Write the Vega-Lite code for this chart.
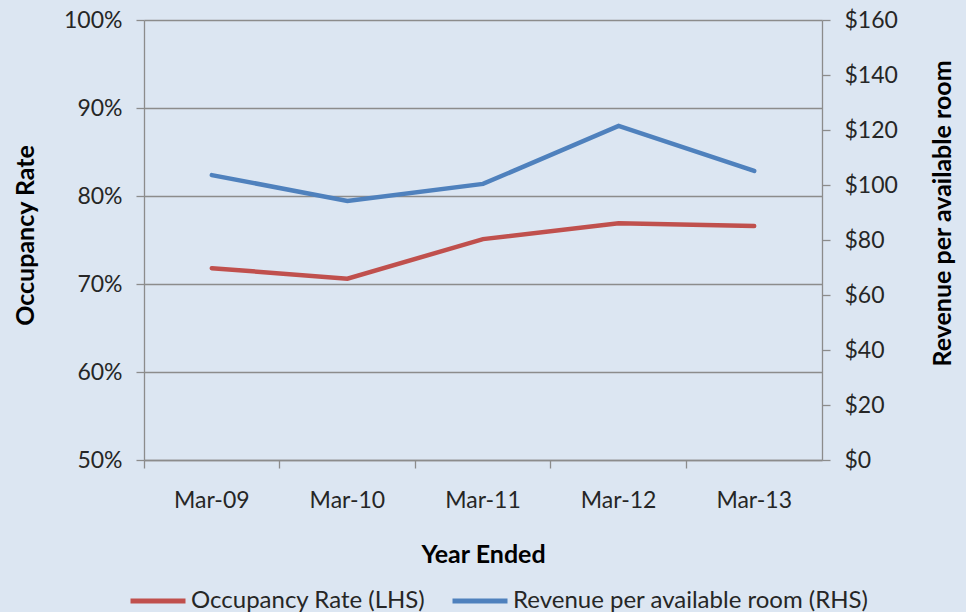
{
  "$schema": "https://vega.github.io/schema/vega-lite/v6.json",
  "autosize": {"type": "none"},
  "width": 678,
  "height": 440,
  "padding": {"left": 144, "top": 20, "right": 144, "bottom": 152},
  "background": "#dce6f2",
  "config": {
    "view": {"stroke": null},
    "font": "Lato",
    "axis": {"labelFont": "Lato", "titleFont": "Lato", "labelColor": "#262626", "titleColor": "#000000", "labelFontSize": 23, "titleFontSize": 25, "titleFontWeight": "bold", "domainColor": "#8c8c8c", "tickColor": "#8c8c8c", "gridColor": "#8c8c8c", "domainWidth": 1.3, "tickWidth": 1.3, "gridWidth": 1.3}
  },
  "data": {"values": [
    {"year": "Mar-09", "occ": 0.718, "revpar": 103.6},
    {"year": "Mar-10", "occ": 0.706, "revpar": 94.2},
    {"year": "Mar-11", "occ": 0.751, "revpar": 100.4},
    {"year": "Mar-12", "occ": 0.769, "revpar": 121.5},
    {"year": "Mar-13", "occ": 0.766, "revpar": 105.1}
  ]},
  "encoding": {
    "x": {"field": "year", "type": "ordinal", "scale": {"type": "band", "paddingInner": 0, "paddingOuter": 0}}
  },
  "layer": [
    {
      "mark": {"type": "line", "strokeWidth": 4.5, "strokeCap": "round"},
      "encoding": {
        "x": {"field": "year", "type": "ordinal", "axis": {"orient": "bottom", "title": "Year Ended", "labelAngle": 0, "ticks": false, "domain": true, "labelPadding": 29, "titlePadding": 30}},
        "y": {"field": "occ", "type": "quantitative", "scale": {"domain": [0.5, 1.0]}, "axis": {"title": "Occupancy Rate", "format": ".0%", "values": [0.5, 0.6, 0.7, 0.8, 0.9, 1.0], "tickSize": 8, "labelPadding": 14, "titleX": -119, "titleY": 215, "titleBaseline": "middle", "grid": true}},
        "color": {"datum": "Occupancy Rate (LHS)", "type": "nominal", "scale": {"domain": ["Occupancy Rate (LHS)", "Revenue per available room (RHS)"], "range": ["#c0504d", "#4f81bd"]}, "legend": {"title": null, "orient": "none", "legendX": -16, "legendY": 551, "direction": "horizontal", "symbolType": "stroke", "symbolSize": 3025, "symbolStrokeWidth": 5, "labelFontSize": 24, "labelFont": "Lato", "labelColor": "#262626", "columnPadding": 16, "labelOffset": 3, "labelLimit": 500}}
      }
    },
    {
      "mark": {"type": "line", "strokeWidth": 4.5, "strokeCap": "round"},
      "encoding": {
        "x": {"field": "year", "type": "ordinal", "axis": {"orient": "bottom", "title": null, "labels": false, "ticks": true, "tickSize": 8, "bandPosition": 0, "domain": false, "grid": false}},
        "y": {"field": "revpar", "type": "quantitative", "scale": {"domain": [0, 160]}, "axis": {"orient": "right", "title": "Revenue per available room", "titleAngle": 270, "titleX": 120, "titleY": 193, "titleBaseline": "middle", "format": "$,.0f", "values": [0, 20, 40, 60, 80, 100, 120, 140, 160], "tickSize": 8, "labelPadding": 14, "grid": false}},
        "color": {"datum": "Revenue per available room (RHS)", "type": "nominal"}
      }
    }
  ],
  "resolve": {"scale": {"y": "independent"}, "axis": {"x": "independent"}}
}
